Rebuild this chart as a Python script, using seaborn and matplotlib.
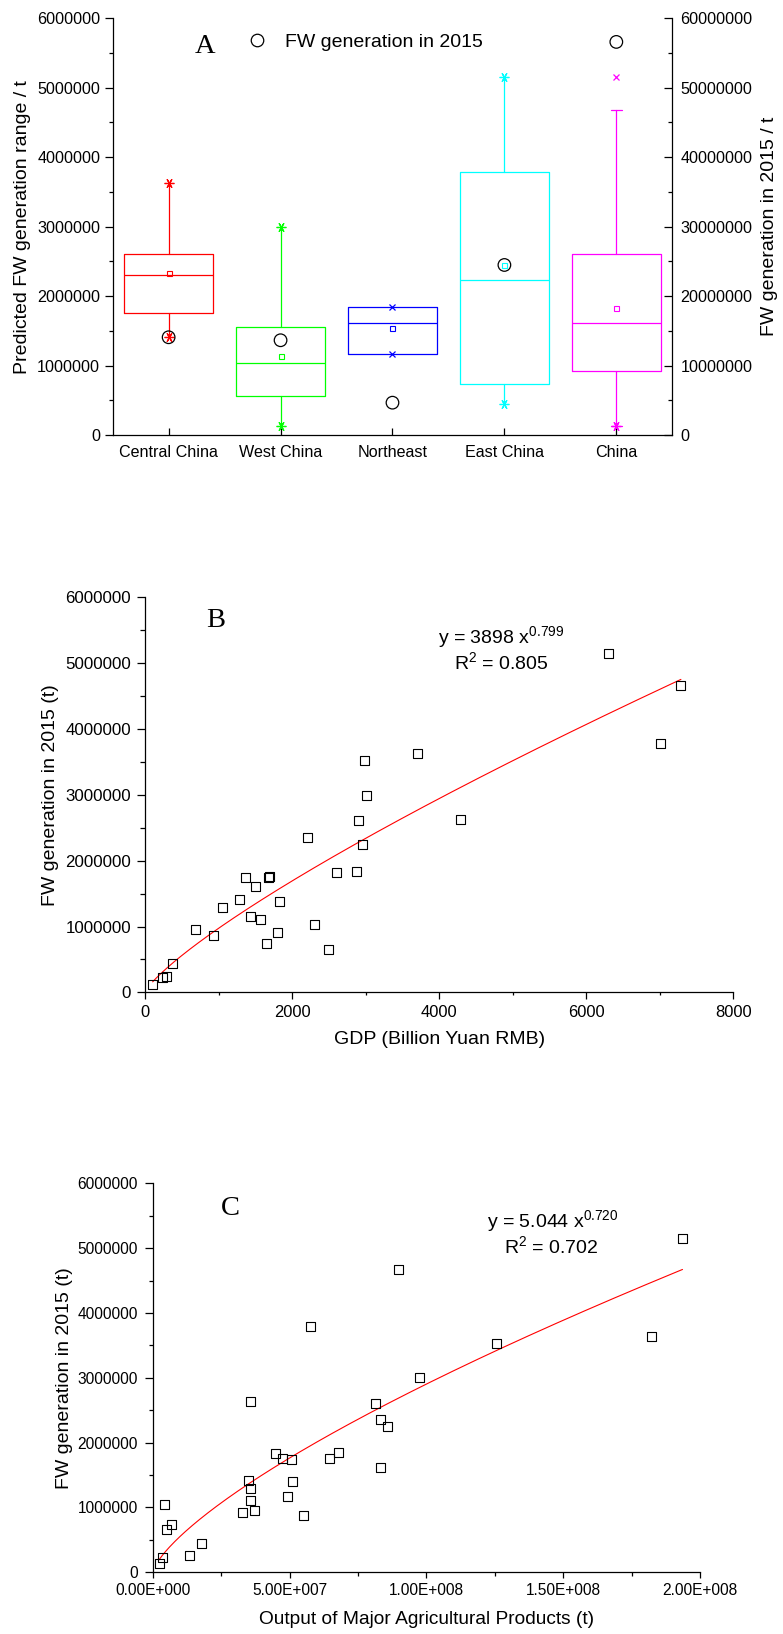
import numpy as np
import matplotlib
matplotlib.use("Agg")
import matplotlib.pyplot as plt
from matplotlib.ticker import MultipleLocator, StrMethodFormatter, FixedLocator, FixedFormatter
import seaborn as sns

# ---------------- Panel A data ----------------
regions = ["Central China", "West China", "Northeast", "East China", "China"]
box_colors = ["#FF0000", "#00FF00", "#0000FF", "#00FFFF", "#FF00FF"]
q1 = [1757000, 557000, 1162000, 739000, 926000]
median = [2304000, 1032000, 1613000, 2228000, 1613000]
q3 = [2602000, 1560000, 1843000, 3783000, 2602000]
mean = [2337000, 1133000, 1541000, 2448000, 1829000]
whisker_low = [1407000, 125000, 1162000, 442000, 125000]
whisker_high = [3633000, 2995000, 1843000, 5151000, 4676000]
min_value = [1407000, 125000, 1162000, 442000, 125000]
max_value = [3633000, 2995000, 1843000, 5151000, 5151000]
min_marker = ["asterisk", "asterisk", "x", "asterisk", "asterisk"]
max_marker = ["asterisk", "asterisk", "x", "asterisk", "x"]
show_cap = [False, False, False, False, True]
fw_2015_region = [14070000, 13640000, 4650000, 24480000, 56600000]

# ---------------- Panel B data ----------------
gdp = [104, 240, 295, 372, 680, 934, 1052, 1283, 1370, 1429, 1506, 1574, 1655,
       1683, 1690, 1805, 1823, 2204, 2299, 2499, 2599, 2875, 2907, 2957, 2984,
       3011, 3705, 4290, 6304, 7016, 7288]
fw_b = [122000, 223000, 248000, 435000, 952000, 866000, 1291000, 1408000,
        1737000, 1159000, 1615000, 1104000, 739000, 1752000, 1758000, 916000,
        1387000, 2359000, 1033000, 658000, 1828000, 1843000, 2603000, 2248000,
        3524000, 2997000, 3635000, 2628000, 5149000, 3782000, 4668000]
b_coef, b_exp, b_r2 = 3898, 0.799, 0.805

# ---------------- Panel C data ----------------
agri_output = [2.31e6, 3.53e6, 4.39e6, 5.12e6, 6.94e6, 13.52e6, 17.8e6, 32.65e6,
               34.97e6, 35.7e6, 35.7e6, 35.7e6, 37.04e6, 44.96e6, 47.39e6,
               49.34e6, 50.56e6, 51.17e6, 55.19e6, 57.63e6, 64.57e6, 67.98e6,
               81.38e6, 83.21e6, 83.33e6, 85.89e6, 89.67e6, 97.47e6, 125.6e6,
               182.4e6, 193.6e6]
fw_c = [129000, 226000, 1039000, 663000, 740000, 252000, 437000, 925000,
        1409000, 1290000, 1111000, 2627000, 956000, 1825000, 1753000, 1162000,
        1733000, 1393000, 869000, 3784000, 1758000, 1846000, 2602000, 1614000,
        2360000, 2252000, 4674000, 2997000, 3522000, 3630000, 5141000]
c_coef, c_exp, c_r2 = 5.044, 0.720, 0.702
c_xticks = [0, 5e7, 1e8, 1.5e8, 2e8]
c_xticklabels = ["0.00E+000", "5.00E+007", "1.00E+008", "1.50E+008", "2.00E+008"]

# ---------------- Style ----------------
sns.set_theme(style="ticks")
plt.rcParams["font.family"] = ["Liberation Sans", "DejaVu Sans"]
plt.rcParams["mathtext.fontset"] = "custom"
plt.rcParams["mathtext.rm"] = "Liberation Sans"
plt.rcParams["mathtext.it"] = "Liberation Sans"
plt.rcParams["mathtext.bf"] = "Liberation Sans:bold"
plt.rcParams["axes.linewidth"] = 0.9
plt.rcParams["text.color"] = "black"
plt.rcParams["axes.labelcolor"] = "black"
plt.rcParams["xtick.color"] = "black"
plt.rcParams["ytick.color"] = "black"
plt.rcParams["axes.edgecolor"] = "black"

SERIF = ["Liberation Serif", "DejaVu Serif"]
marker_shapes = {"asterisk": (6, 2, 90), "x": "x"}

fig = plt.figure(figsize=(7.83, 16.34), dpi=100)

# ================= Panel A =================
axA = fig.add_axes([0.1439, 0.7338, 0.7147, 0.2550])
axA2 = axA.twinx()
positions = np.arange(1, len(regions) + 1)

for i, reg in enumerate(regions):
    c = box_colors[i]
    stats = [dict(med=median[i], q1=q1[i], q3=q3[i], whislo=whisker_low[i],
                  whishi=whisker_high[i], mean=mean[i], fliers=[], label=reg)]
    axA.bxp(stats, positions=[positions[i]], widths=0.8, capwidths=0.1,
            showmeans=True, showcaps=show_cap[i], showfliers=False,
            boxprops=dict(color=c, lw=0.9),
            whiskerprops=dict(color=c, lw=0.9),
            capprops=dict(color=c, lw=0.9),
            medianprops=dict(color=c, lw=0.9),
            meanprops=dict(marker="s", markerfacecolor="none", markeredgecolor=c,
                           markersize=3.6, markeredgewidth=0.8),
            manage_ticks=False)
    axA.plot([positions[i]], [min_value[i]], linestyle="none",
             marker=marker_shapes[min_marker[i]], color=c,
             ms=7 if min_marker[i] == "asterisk" else 4.5, mew=0.9)
    axA.plot([positions[i]], [max_value[i]], linestyle="none",
             marker=marker_shapes[max_marker[i]], color=c,
             ms=7 if max_marker[i] == "asterisk" else 4.5, mew=0.9)

sns.scatterplot(x=positions, y=fw_2015_region, ax=axA2, marker="o", s=82,
                facecolor="none", edgecolor="black", linewidth=0.9,
                legend=False, zorder=5)

axA.set_xlim(0.5, 5.5)
axA.set_ylim(0, 6e6)
axA2.set_ylim(0, 6e7)
axA.xaxis.set_major_locator(FixedLocator(positions))
axA.xaxis.set_major_formatter(FixedFormatter(regions))
axA.yaxis.set_major_locator(MultipleLocator(1e6))
axA.yaxis.set_minor_locator(MultipleLocator(5e5))
axA.yaxis.set_major_formatter(StrMethodFormatter("{x:.0f}"))
axA2.yaxis.set_major_locator(MultipleLocator(1e7))
axA2.yaxis.set_minor_locator(MultipleLocator(5e6))
axA2.yaxis.set_major_formatter(StrMethodFormatter("{x:.0f}"))

axA.tick_params(axis="x", which="major", direction="in", length=5, width=0.9,
                pad=7, labelsize=11.6)
axA.tick_params(axis="y", which="major", direction="out", length=5.5, width=0.9,
                pad=3.5, labelsize=11.6)
axA.tick_params(axis="y", which="minor", direction="out", length=3.1, width=0.9)
axA2.tick_params(axis="y", which="major", direction="in", length=5.5, width=0.9,
                 pad=6, labelsize=11.6)
axA2.tick_params(axis="y", which="minor", direction="in", length=3.1, width=0.9)
axA.spines["top"].set_visible(False)
axA.spines["right"].set_visible(False)
axA2.spines["top"].set_visible(False)
axA2.spines["left"].set_visible(False)
axA2.spines["bottom"].set_visible(False)

axA.set_ylabel("Predicted FW generation range / t", fontsize=14, va="center")
axA.yaxis.set_label_coords(-0.161, 0.5)
axA2.set_ylabel("FW generation in 2015 / t", fontsize=14, va="center")
axA2.yaxis.set_label_coords(1.173, 0.5)
axA.set_xlabel("")

axA.text(0.1644, 0.916, "A", transform=axA.transAxes, ha="center", va="baseline",
         fontsize=20.5, family=SERIF)
axA.plot([0.2573], [0.948], transform=axA.transAxes, marker="o", ms=9,
         mfc="none", mec="black", mew=0.9, linestyle="none", clip_on=False)
axA.text(0.3079, 0.932, "FW generation in 2015", transform=axA.transAxes,
         ha="left", va="baseline", fontsize=14)

# ================= Panel B =================
axB = fig.add_axes([0.1852, 0.3927, 0.7513, 0.2417])
sns.scatterplot(x=gdp, y=fw_b, ax=axB, marker="s", s=42, facecolor="none",
                edgecolor="black", linewidth=0.8, legend=False, zorder=3)
xb = np.linspace(min(gdp), max(gdp), 300)
sns.lineplot(x=xb, y=b_coef * xb ** b_exp, ax=axB, color="red", lw=0.8,
             estimator=None, sort=True, zorder=2)
axB.set_xlim(0, 8000)
axB.set_ylim(0, 6e6)
axB.xaxis.set_major_locator(MultipleLocator(2000))
axB.xaxis.set_minor_locator(MultipleLocator(1000))
axB.yaxis.set_major_locator(MultipleLocator(1e6))
axB.yaxis.set_minor_locator(MultipleLocator(5e5))
axB.yaxis.set_major_formatter(StrMethodFormatter("{x:.0f}"))
axB.tick_params(axis="x", which="major", direction="out", length=5, width=0.9,
                pad=4, labelsize=11.9)
axB.tick_params(axis="x", which="minor", direction="out", length=2.4, width=0.9)
axB.tick_params(axis="y", which="major", direction="out", length=6, width=0.9,
                pad=4, labelsize=12.2)
axB.tick_params(axis="y", which="minor", direction="out", length=3.4, width=0.9)
axB.spines["top"].set_visible(False)
axB.spines["right"].set_visible(False)
axB.set_xlabel("GDP (Billion Yuan RMB)", fontsize=14, va="center")
axB.xaxis.set_label_coords(0.5, -0.1205)
axB.set_ylabel("FW generation in 2015 (t)", fontsize=14, va="center")
axB.yaxis.set_label_coords(-0.161, 0.5)
axB.text(0.1195, 0.924, "B", transform=axB.transAxes, ha="center", va="baseline",
         fontsize=20.5, family=SERIF)
axB.text(0.4986, 0.8835, rf"y = {b_coef} x$^{{{b_exp:.3f}}}$", transform=axB.transAxes,
         ha="left", va="baseline", fontsize=14)
axB.text(0.525, 0.8177, rf"R$^{{2}}$ = {b_r2:.3f}", transform=axB.transAxes,
         ha="left", va="baseline", fontsize=14)

# ================= Panel C =================
axC = fig.add_axes([0.1950, 0.03776, 0.6990, 0.2381])
sns.scatterplot(x=agri_output, y=fw_c, ax=axC, marker="s", s=42, facecolor="none",
                edgecolor="black", linewidth=0.8, legend=False, zorder=3)
xc = np.linspace(min(agri_output), max(agri_output), 300)
sns.lineplot(x=xc, y=c_coef * xc ** c_exp, ax=axC, color="red", lw=0.8,
             estimator=None, sort=True, zorder=2)
axC.set_xlim(0, 2e8)
axC.set_ylim(0, 6e6)
axC.xaxis.set_major_locator(FixedLocator(c_xticks))
axC.xaxis.set_major_formatter(FixedFormatter(c_xticklabels))
axC.xaxis.set_minor_locator(MultipleLocator(2.5e7))
axC.yaxis.set_major_locator(MultipleLocator(1e6))
axC.yaxis.set_minor_locator(MultipleLocator(5e5))
axC.yaxis.set_major_formatter(StrMethodFormatter("{x:.0f}"))
axC.tick_params(axis="x", which="major", direction="out", length=4.3, width=0.9,
                pad=3.7, labelsize=11.2)
axC.tick_params(axis="x", which="minor", direction="out", length=2.6, width=0.9)
axC.tick_params(axis="y", which="major", direction="out", length=6, width=0.9,
                pad=4.5, labelsize=11.2)
axC.tick_params(axis="y", which="minor", direction="out", length=3.1, width=0.9)
axC.spines["top"].set_visible(False)
axC.spines["right"].set_visible(False)
axC.set_xlabel("Output of Major Agricultural Products (t)", fontsize=13.8, va="center")
axC.xaxis.set_label_coords(0.5, -0.1213)
axC.set_ylabel("FW generation in 2015 (t)", fontsize=14, va="center")
axC.yaxis.set_label_coords(-0.161, 0.5)
axC.text(0.1412, 0.9185, "C", transform=axC.transAxes, ha="center", va="baseline",
         fontsize=20.5, family=SERIF)
axC.text(0.610, 0.888, rf"y = {c_coef:.3f} x$^{{{c_exp:.3f}}}$", transform=axC.transAxes,
         ha="left", va="baseline", fontsize=14)
axC.text(0.642, 0.8216, rf"R$^{{2}}$ = {c_r2:.3f}", transform=axC.transAxes,
         ha="left", va="baseline", fontsize=14)

fig.savefig("out.png", dpi=100, facecolor="white")
